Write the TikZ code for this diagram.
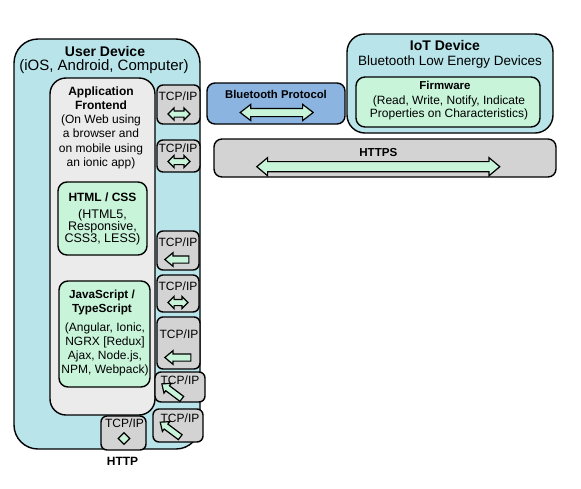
\documentclass[tikz,border=0pt]{standalone}
\usepackage{fontspec}
\setmainfont{Liberation Sans}
\usetikzlibrary{shapes.arrows,shapes.geometric,fit}
\definecolor{cyanbg}{HTML}{B8E4EA}
\definecolor{greenbg}{HTML}{C8F4DA}
\definecolor{graybg}{HTML}{D3D3D3}
\definecolor{bluebg}{HTML}{8CB4E1}
\definecolor{dotbg}{HTML}{EBEBEB}
\newcommand\fsz[2]{\fontsize{#1}{#2}\selectfont}
\tikzset{
  every node/.style={inner sep=0pt},
  frame/.style={draw=black, line width=1.4pt, inner sep=0pt},
  outerbox/.style={frame, fill=cyanbg, rounded corners=24pt},
  frontbox/.style={frame, fill=dotbg, rounded corners=16pt},
  greenbox/.style={frame, fill=greenbg, rounded corners=9pt},
  tcpbox/.style={frame, fill=graybg, rounded corners=6pt},
  bluebox/.style={frame, fill=bluebg, rounded corners=8pt},
  httpsbox/.style={frame, fill=graybg, rounded corners=8pt},
  arrowbase/.style={draw=black, fill=greenbg, line width=1.2pt, inner xsep=0pt},
  dbl/.style={arrowbase, double arrow, double arrow tip angle=90,
    inner ysep=2.5pt, double arrow head extend=3pt, minimum width=1pt},
  sgl/.style={arrowbase, single arrow, single arrow tip angle=80,
    inner ysep=3pt, single arrow head extend=3.25pt, minimum width=1pt},
  lbl/.style={anchor=base, align=center},
  tcptext/.style={anchor=base, font=\fsz{12}{12}},
}
\begin{document}
\begin{tikzpicture}[x=1pt,y=-1pt]
\useasboundingbox (0,0) rectangle (581,488);
% user device
\node[outerbox, fit={(14,39) (200,449)}] (user) {};
\node[frontbox, fit={(50,78) (155,415)}] (front) {};
\node[greenbox, fit={(58,182) (147,255)}] (html) {};
\node[greenbox, fit={(59,281) (150,387)}] (js) {};
% iot device
\node[outerbox, rounded corners=18pt, fit={(347,34) (553,133)}] (iot) {};
\node[greenbox, fit={(356,77) (540,127)}] (fw) {};
\node[bluebox, fit={(207,83) (345,124)}] (bt) {};
\node[httpsbox, fit={(214,139) (556,177)}] (https) {};
% tcp boxes
\node[tcpbox, fit={(157,85) (200,124)}] (b1) {};
\node[tcpbox, fit={(157,140) (200,172)}] (b2) {};
\node[tcpbox, fit={(157,231) (199,270)}] (b3) {};
\node[tcpbox, fit={(157,275) (199,312)}] (b4) {};
\node[tcpbox, fit={(157,317) (200,369)}] (b5) {};
\node[tcpbox, fit={(155,372) (205,402)}] (b6) {};
\node[tcpbox, fit={(153,409) (203,442)}] (b7) {};
\node[tcpbox, fit={(101,416) (146,450)}] (b8) {};
% texts (base anchor = baseline of the last line)
\node[lbl, font=\fsz{14}{15}\bfseries] (userT) at (105,56) {User Device};
\node[lbl, font=\fsz{15}{15}] (userS) at (104,70) {(iOS, Android, Computer)};
\node[lbl, font=\fsz{12}{14.3}] (frontT) at (101,166.5) {\textbf{Application}\\\textbf{Frontend}\\(On Web using\\a browser and\\on mobile using\\an ionic app)};
\node[lbl, font=\fsz{12}{12}\bfseries] (htmlT) at (102.5,201) {HTML / CSS};
\node[lbl, font=\fsz{12.5}{12.4}] (htmlS) at (102.5,242.8) {(HTML5,\\Responsive,\\CSS3, LESS)};
\node[lbl, font=\fsz{11.7}{14}\bfseries] (jsT) at (102,312) {JavaScript /\\TypeScript};
\node[lbl, font=\fsz{12}{14.3}] (jsS) at (105,373.9) {(Angular, Ionic,\\NGRX [Redux]\\Ajax, Node.js,\\NPM, Webpack)};
\node[lbl, font=\fsz{14}{15}\bfseries] (iotT) at (445,50) {IoT Device};
\node[lbl, font=\fsz{13.5}{15}] (iotS) at (450,65.3) {Bluetooth Low Energy Devices};
\node[lbl, font=\fsz{11.5}{12}\bfseries] (fwT) at (445,89.3) {Firmware};
\node[lbl, font=\fsz{12}{13.4}] (fwS) at (449,117.4) {(Read, Write, Notify, Indicate\\Properties on Characteristics)};
\node[lbl, font=\fsz{11.3}{12}\bfseries] (btT) at (276,98.3) {Bluetooth Protocol};
\node[lbl, font=\fsz{11.6}{12}\bfseries] (httpsT) at (378.3,156) {HTTPS};
\node[lbl, font=\fsz{12}{12}\bfseries] (httpT) at (122.5,465) {HTTP};
\node[tcptext] (b1t) at (178,100.5) {TCP/IP};
\node[tcptext] (b2t) at (178,152.5) {TCP/IP};
\node[tcptext] (b3t) at (178,246.5) {TCP/IP};
\node[tcptext] (b4t) at (178,290) {TCP/IP};
\node[tcptext] (b5t) at (179,338) {TCP/IP};
\node[tcptext] (b6t) at (180,384) {TCP/IP};
\node[tcptext] (b7t) at (180,422) {TCP/IP};
\node[tcptext] (b8t) at (124.5,427) {TCP/IP};
% arrows
\node[dbl, minimum height=73pt, inner ysep=3.5pt, double arrow head extend=4pt, double arrow tip angle=75] (btA) at (276.7,112.5) {};
\node[dbl, minimum height=243pt, inner ysep=4.5pt, double arrow head extend=4pt, double arrow tip angle=80] (httpsA) at (378.3,166.7) {};
\node[dbl, minimum height=22pt] (b1a) at (179,114) {};
\node[dbl, minimum height=22pt] (b2a) at (179,161.5) {};
\node[sgl, minimum height=24pt, shape border rotate=180] (b3a) at (179,259.5) {};
\node[dbl, minimum height=20pt] (b4a) at (178,302.5) {};
\node[sgl, minimum height=26pt, shape border rotate=180] (b5a) at (180,357.5) {};
\node[sgl, minimum height=25pt, inner ysep=2.5pt, single arrow head extend=3pt, rotate=143] (b6a) at (173.3,392.5) {};
\node[sgl, minimum height=25pt, inner ysep=2.5pt, single arrow head extend=3pt, rotate=143] (b7a) at (171.7,430.8) {};
\node[diamond, draw=black, fill=greenbg, line width=1.2pt, minimum width=12pt, minimum height=12pt, inner sep=0pt] (b8a) at (124,438.5) {};
\end{tikzpicture}
\end{document}
